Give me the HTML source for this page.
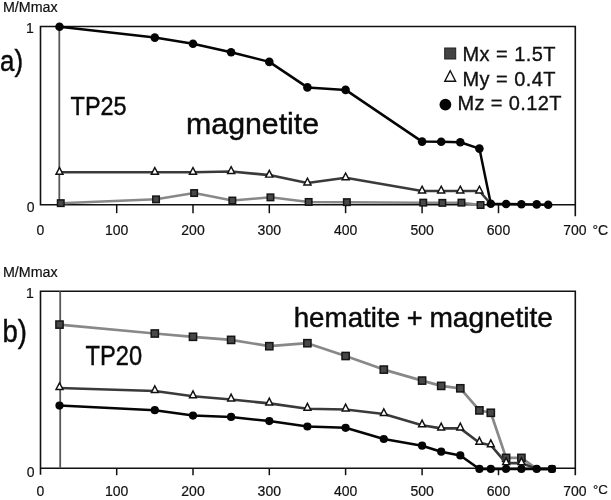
<!DOCTYPE html>
<html lang="en">
<head>
<meta charset="utf-8">
<title>Thermal demagnetization: magnetite and hematite + magnetite</title>
<style>
html,body{margin:0;padding:0;background:#fff;}
body{width:611px;height:500px;overflow:hidden;font-family:"Liberation Sans",Arial,Helvetica,sans-serif;}
svg{display:block;}
.ax{font-family:"Liberation Sans",Arial,Helvetica,sans-serif;font-size:14px;fill:#111;stroke:#111;stroke-width:0.2px;}
.lg{font-family:"Liberation Sans",Arial,Helvetica,sans-serif;font-size:20px;fill:#111;stroke:#111;stroke-width:0.35px;}
.big{font-family:"Liberation Sans",Arial,Helvetica,sans-serif;fill:#0a0a0a;stroke:#0a0a0a;stroke-width:0.45px;}
.frame{fill:none;stroke:#111;stroke-width:1.6;}
.tk line{stroke:#111;stroke-width:1.5;}
.mz{fill:none;stroke:#050505;stroke-width:2.5;stroke-linejoin:round;}
.my{fill:none;stroke:#3a3a3a;stroke-width:2.7;stroke-linejoin:round;}
.mx{fill:none;stroke:#888;stroke-width:2.5;stroke-linejoin:round;}
.sq rect{fill:#484848;stroke:#151515;stroke-width:1.5;}
.tr polygon{fill:#fff;stroke:#111;stroke-width:1.45;stroke-linejoin:miter;}
.ci circle{fill:#050505;}
</style>
</head>
<body>
<svg width="611" height="500" viewBox="0 0 611 500">
<rect width="611" height="500" fill="#fff"/>

<!-- ===== panel a ===== -->
<g class="ax">
<text x="3" y="12" font-size="14.25">M/Mmax</text>
<text x="33.8" y="33.2" text-anchor="end">1</text>
<text x="34.5" y="212" text-anchor="end">0</text>
<text x="40.4" y="234.7" text-anchor="middle">0</text>
<text x="116.7" y="234.7" text-anchor="middle">100</text>
<text x="193.0" y="234.7" text-anchor="middle">200</text>
<text x="269.3" y="234.7" text-anchor="middle">300</text>
<text x="345.6" y="234.7" text-anchor="middle">400</text>
<text x="422.1" y="234.7" text-anchor="middle">500</text>
<text x="498.5" y="234.7" text-anchor="middle">600</text>
<text x="574.9" y="234.7" text-anchor="middle">700</text>
<text x="592.4" y="234.6">°C</text>
</g>
<path class="frame" d="M40.5,204.7 V26.5 H575.3 V216.2 M39.7,204.7 H575.3"/>
<g class="tk"><line x1="116.7" y1="204.7" x2="116.7" y2="213.2"/>
<line x1="193.0" y1="204.7" x2="193.0" y2="213.2"/>
<line x1="269.3" y1="204.7" x2="269.3" y2="213.2"/>
<line x1="345.6" y1="204.7" x2="345.6" y2="213.2"/>
<line x1="422.1" y1="204.7" x2="422.1" y2="213.2"/>
<line x1="498.5" y1="204.7" x2="498.5" y2="213.2"/></g>
<line x1="59.3" y1="26.5" x2="59.3" y2="204.7" stroke="#585858" stroke-width="1.8"/>

<polyline class="mx" points="60.7,203.2 156.0,199.3 194.2,193.1 232.3,200.6 270.5,197.3 308.6,201.9 346.8,202.2 423.3,202.7 442.4,202.8 461.5,202.7 480.6,205.0"/>
<g class="sq"><rect x="57.5" y="199.9" width="6.5" height="6.5"/>
<rect x="152.8" y="196.1" width="6.5" height="6.5"/>
<rect x="190.9" y="189.8" width="6.5" height="6.5"/>
<rect x="229.1" y="197.3" width="6.5" height="6.5"/>
<rect x="267.2" y="194.1" width="6.5" height="6.5"/>
<rect x="305.4" y="198.7" width="6.5" height="6.5"/>
<rect x="343.6" y="198.9" width="6.5" height="6.5"/>
<rect x="420.0" y="199.4" width="6.5" height="6.5"/>
<rect x="439.1" y="199.6" width="6.5" height="6.5"/>
<rect x="458.2" y="199.4" width="6.5" height="6.5"/>
<rect x="477.3" y="201.8" width="6.5" height="6.5"/></g>
<polyline class="my" style="stroke-width:2.6" points="59.5,172.3 154.8,172.3 193.0,172.3 231.1,171.5 269.3,175.1 307.4,183.0 345.6,177.8 422.1,191.0 441.2,191.0 460.3,191.0 479.4,191.0 490.8,204.0"/>
<g class="tr"><polygon points="59.5,167.5 63.0,174.3 56.0,174.3"/>
<polygon points="154.8,167.5 158.4,174.3 151.3,174.3"/>
<polygon points="193.0,167.5 196.5,174.3 189.4,174.3"/>
<polygon points="231.1,166.7 234.7,173.5 227.6,173.5"/>
<polygon points="269.3,170.3 272.8,177.1 265.7,177.1"/>
<polygon points="307.4,178.2 311.0,185.0 303.9,185.0"/>
<polygon points="345.6,173.0 349.2,179.8 342.1,179.8"/>
<polygon points="422.1,186.2 425.6,193.0 418.5,193.0"/>
<polygon points="441.2,186.2 444.7,193.0 437.6,193.0"/>
<polygon points="460.3,186.2 463.8,193.0 456.7,193.0"/>
<polygon points="479.4,186.2 482.9,193.0 475.8,193.0"/></g>
<polyline class="mz" style="stroke-width:2.5" points="59.5,26.7 154.8,37.6 193.0,43.8 231.1,52.2 269.3,61.9 307.4,87.4 345.6,89.9 422.1,141.6 441.2,141.7 460.3,142.3 479.4,148.6 490.8,203.8 506.1,204.0 521.4,204.2 536.7,204.4 548.2,204.7"/>
<g class="ci"><circle cx="59.5" cy="26.7" r="4.3"/>
<circle cx="154.8" cy="37.6" r="4.3"/>
<circle cx="193.0" cy="43.8" r="4.3"/>
<circle cx="231.1" cy="52.2" r="4.3"/>
<circle cx="269.3" cy="61.9" r="4.3"/>
<circle cx="307.4" cy="87.4" r="4.3"/>
<circle cx="345.6" cy="89.9" r="4.3"/>
<circle cx="422.1" cy="141.6" r="4.3"/>
<circle cx="441.2" cy="141.7" r="4.3"/>
<circle cx="460.3" cy="142.3" r="4.3"/>
<circle cx="479.4" cy="148.6" r="4.3"/>
<circle cx="490.8" cy="203.8" r="4.3"/>
<circle cx="506.1" cy="204.0" r="4.3"/>
<circle cx="521.4" cy="204.2" r="4.3"/>
<circle cx="536.7" cy="204.4" r="4.3"/>
<circle cx="548.2" cy="204.7" r="4.3"/></g>

<g class="big">
<text x="0" y="71" font-size="30" textLength="23" lengthAdjust="spacingAndGlyphs">a)</text>
<text x="70.6" y="114.7" font-size="26.4" textLength="56" lengthAdjust="spacingAndGlyphs">TP25</text>
<text x="186.1" y="134.0" font-size="30" textLength="133" lengthAdjust="spacingAndGlyphs">magnetite</text>
</g>

<!-- legend -->
<rect x="444.7" y="48" width="11" height="11" fill="#444" stroke="#222" stroke-width="1"/>
<polygon points="450.2,70.8 455.6,81.2 444.8,81.2" fill="#fff" stroke="#111" stroke-width="1.4"/>
<circle cx="445.4" cy="104.6" r="5.9" fill="#050505"/>
<g class="lg">
<text x="462.5" y="60.5" textLength="93" lengthAdjust="spacing">Mx = 1.5T</text>
<text x="462.5" y="85.7" textLength="93" lengthAdjust="spacing">My = 0.4T</text>
<text x="457.5" y="110.3" textLength="103.9" lengthAdjust="spacing">Mz = 0.12T</text>
</g>

<!-- ===== panel b ===== -->
<g class="ax">
<text x="3" y="276.9" font-size="14.25">M/Mmax</text>
<text x="33.8" y="297.9" text-anchor="end">1</text>
<text x="34.5" y="477" text-anchor="end">0</text>
<text x="40.4" y="496.3" text-anchor="middle">0</text>
<text x="116.7" y="496.3" text-anchor="middle">100</text>
<text x="193.0" y="496.3" text-anchor="middle">200</text>
<text x="269.3" y="496.3" text-anchor="middle">300</text>
<text x="345.6" y="496.3" text-anchor="middle">400</text>
<text x="422.1" y="496.3" text-anchor="middle">500</text>
<text x="498.5" y="496.3" text-anchor="middle">600</text>
<text x="574.9" y="496.3" text-anchor="middle">700</text>
<text x="593" y="493.6" font-size="13.3">°C</text>
</g>
<path class="frame" d="M40.5,474.7 V291.2 H575.3 V475.2 M40.5,468.2 H575.3"/>
<g class="tk"><line x1="116.7" y1="468.2" x2="116.7" y2="475.2"/>
<line x1="193.0" y1="468.2" x2="193.0" y2="475.2"/>
<line x1="269.3" y1="468.2" x2="269.3" y2="475.2"/>
<line x1="345.6" y1="468.2" x2="345.6" y2="475.2"/>
<line x1="422.1" y1="468.2" x2="422.1" y2="475.2"/>
<line x1="498.5" y1="468.2" x2="498.5" y2="475.2"/></g>
<line x1="60.2" y1="291.2" x2="60.2" y2="468.2" stroke="#585858" stroke-width="1.8"/>

<polyline class="mx" style="stroke-width:2.7" points="59.5,324.6 154.8,333.5 193.0,336.8 231.1,339.9 269.3,346.2 307.4,343.2 345.6,356.0 383.8,369.6 422.1,380.6 441.2,385.9 460.3,388.3 479.4,410.4 490.8,412.8 506.1,457.9 521.4,457.9 536.7,468.9 552.0,468.9"/>
<g class="sq"><rect x="55.9" y="321.0" width="7.2" height="7.2"/>
<rect x="151.2" y="329.9" width="7.2" height="7.2"/>
<rect x="189.4" y="333.2" width="7.2" height="7.2"/>
<rect x="227.5" y="336.3" width="7.2" height="7.2"/>
<rect x="265.7" y="342.6" width="7.2" height="7.2"/>
<rect x="303.8" y="339.6" width="7.2" height="7.2"/>
<rect x="342.0" y="352.4" width="7.2" height="7.2"/>
<rect x="380.2" y="366.0" width="7.2" height="7.2"/>
<rect x="418.5" y="377.0" width="7.2" height="7.2"/>
<rect x="437.6" y="382.3" width="7.2" height="7.2"/>
<rect x="456.7" y="384.7" width="7.2" height="7.2"/>
<rect x="475.8" y="406.8" width="7.2" height="7.2"/>
<rect x="487.2" y="409.2" width="7.2" height="7.2"/>
<rect x="502.5" y="454.3" width="7.2" height="7.2"/>
<rect x="517.8" y="454.3" width="7.2" height="7.2"/></g>
<polyline class="my" style="stroke-width:2.6" points="59.5,388.0 154.8,391.0 193.0,396.2 231.1,399.5 269.3,403.4 307.4,408.7 345.6,409.5 383.8,414.0 422.1,425.3 441.2,428.4 460.3,428.4 479.4,442.7 490.8,445.2 506.1,463.1 521.4,463.1 536.7,468.9 552.0,468.9"/>
<g class="tr"><polygon points="59.5,382.8 63.0,389.5 56.0,389.5"/>
<polygon points="154.8,385.8 158.3,392.5 151.4,392.5"/>
<polygon points="193.0,390.9 196.4,397.7 189.5,397.7"/>
<polygon points="231.1,394.2 234.6,401.0 227.7,401.0"/>
<polygon points="269.3,398.1 272.7,404.9 265.8,404.9"/>
<polygon points="307.4,403.4 310.9,410.2 304.0,410.2"/>
<polygon points="345.6,404.2 349.1,411.0 342.2,411.0"/>
<polygon points="383.8,408.8 387.3,415.5 380.4,415.5"/>
<polygon points="422.1,420.1 425.5,426.8 418.6,426.8"/>
<polygon points="441.2,423.1 444.6,429.9 437.7,429.9"/>
<polygon points="460.3,423.1 463.7,429.9 456.8,429.9"/>
<polygon points="479.4,437.4 482.8,444.2 475.9,444.2"/>
<polygon points="490.8,439.9 494.3,446.7 487.4,446.7"/>
<polygon points="506.1,457.9 509.6,464.6 502.7,464.6"/>
<polygon points="521.4,457.9 524.9,464.6 518.0,464.6"/></g>
<polyline class="mz" points="59.5,405.6 154.8,410.2 193.0,415.6 231.1,416.9 269.3,421.1 307.4,426.5 345.6,427.8 383.8,439.0 422.1,445.7 441.2,451.7 460.3,455.4 479.4,468.9 490.8,468.9 506.1,468.9 521.4,468.9 536.7,468.9 552.0,468.9"/>
<g class="ci"><circle cx="59.5" cy="405.6" r="4.1"/>
<circle cx="154.8" cy="410.2" r="4.1"/>
<circle cx="193.0" cy="415.6" r="4.1"/>
<circle cx="231.1" cy="416.9" r="4.1"/>
<circle cx="269.3" cy="421.1" r="4.1"/>
<circle cx="307.4" cy="426.5" r="4.1"/>
<circle cx="345.6" cy="427.8" r="4.1"/>
<circle cx="383.8" cy="439.0" r="4.1"/>
<circle cx="422.1" cy="445.7" r="4.1"/>
<circle cx="441.2" cy="451.7" r="4.1"/>
<circle cx="460.3" cy="455.4" r="4.1"/>
<circle cx="479.4" cy="468.9" r="4.1"/>
<circle cx="490.8" cy="468.9" r="4.1"/>
<circle cx="506.1" cy="468.9" r="4.1"/>
<circle cx="521.4" cy="468.9" r="4.1"/>
<circle cx="536.7" cy="468.9" r="4.1"/>
<circle cx="552.0" cy="468.9" r="4.1"/></g>
<rect x="548.2" y="465.1" width="7.6" height="7.6" rx="1.8" fill="#050505"/>

<g class="big">
<text x="2.4" y="341.6" font-size="32" textLength="24.5" lengthAdjust="spacingAndGlyphs">b)</text>
<text x="85.6" y="364.8" font-size="26.8" textLength="56.5" lengthAdjust="spacingAndGlyphs">TP20</text>
<text x="293.7" y="326.8" font-size="27.2" textLength="106.4" lengthAdjust="spacingAndGlyphs">hematite</text>
<text x="414.7" y="326.8" font-size="27.2" text-anchor="middle">+</text>
<text x="429.4" y="326.8" font-size="27.2" textLength="123.6" lengthAdjust="spacingAndGlyphs">magnetite</text>
</g>
</svg>
</body>
</html>
